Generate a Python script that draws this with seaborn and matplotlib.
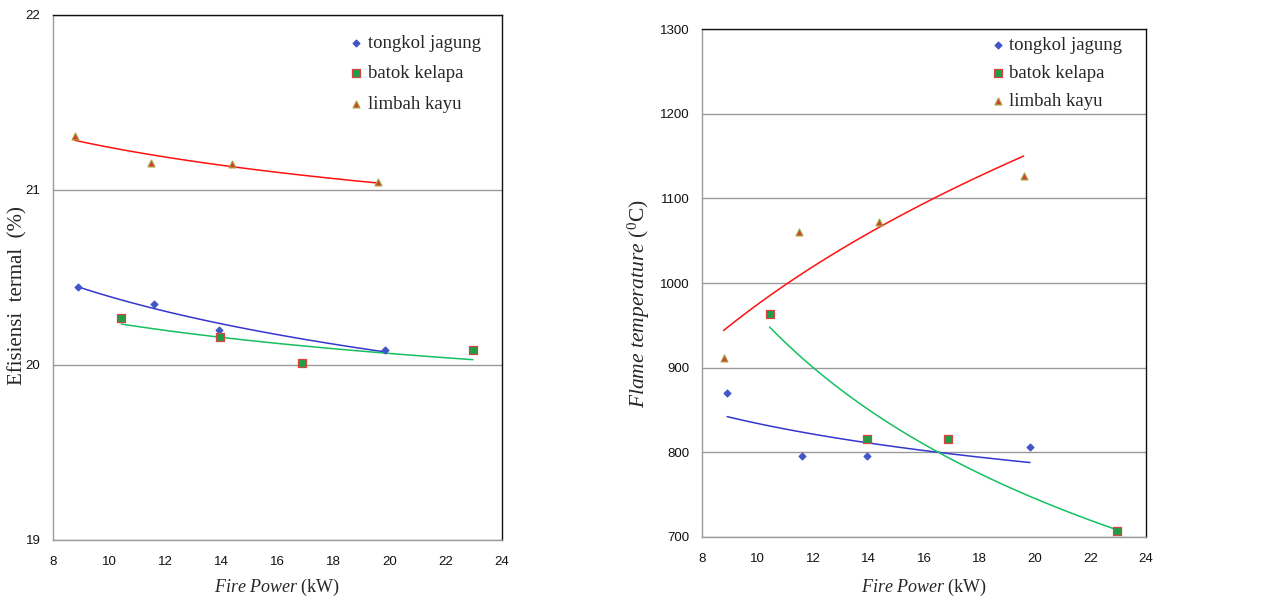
import numpy as np
import pandas as pd
import seaborn as sns
import matplotlib.pyplot as plt

# fire power (kW) for each fuel
x_tongkol = [8.90, 11.58, 13.93, 19.82]
x_batok = [10.43, 13.95, 16.88, 22.96]
x_limbah = [8.77, 11.48, 14.37, 19.59]

# thermal efficiency (%)
eff_tongkol = [20.444, 20.350, 20.202, 20.086]
eff_batok = [20.270, 20.162, 20.013, 20.088]
eff_limbah = [21.310, 21.154, 21.149, 21.046]

# flame temperature (C)
temp_tongkol = [870, 795, 795, 806]
temp_batok = [963, 816, 816, 707]
temp_limbah = [911, 1060, 1072, 1127]

labels = ['tongkol jagung', 'batok kelapa', 'limbah kayu']

sns.set_style('white')
plt.rcParams['mathtext.fontset'] = 'custom'
plt.rcParams['mathtext.rm'] = 'Liberation Serif'
plt.rcParams['mathtext.it'] = 'Liberation Serif:italic'

# marker / trendline styles per fuel
styles = [
    dict(marker='D', s=12, color='#3F55C8', edgecolor='#3F55C8', line='#3535D0'),
    dict(marker='s', s=26, color='#1E9E48', edgecolor='#D9443F', line='#14C060'),
    dict(marker='^', s=24, color='#D23A2A', edgecolor='#A8A040', line='#FF1010'),
]


def power_trend(x, y):
    # Excel style power trendline y = a * x^b
    b, lna = np.polyfit(np.log(x), np.log(y), 1)
    xs = np.linspace(min(x), max(x), 60)
    return xs, np.exp(lna) * xs ** b


def draw_panel(ax, xs_list, ys_list, ylim, yticks):
    handles = []
    for x, y, lab, st in zip(xs_list, ys_list, labels, styles):
        tx, ty = power_trend(np.array(x), np.array(y))
        sns.lineplot(ax=ax, x=tx, y=ty, color=st['line'], linewidth=1.1,
                     estimator=None, sort=False)
    for x, y, lab, st in zip(xs_list, ys_list, labels, styles):
        df = pd.DataFrame({'x': x, 'y': y})
        sns.scatterplot(ax=ax, data=df, x='x', y='y', marker=st['marker'], s=st['s'],
                        color=st['color'], edgecolor=st['edgecolor'], linewidth=0.9,
                        zorder=5)
        handles.append(ax.collections[-1])
    ax.set_xlim(8, 24)
    ax.set_xticks(range(8, 25, 2))
    ax.set_ylim(*ylim)
    ax.set_yticks(yticks)
    ax.yaxis.grid(True, color='#9A9A9A', linewidth=1.0)
    ax.xaxis.grid(False)
    for side in ['left', 'bottom']:
        ax.spines[side].set_color('#9A9A9A')
    for side in ['top', 'right']:
        ax.spines[side].set_color('#111111')
    for sp in ax.spines.values():
        sp.set_linewidth(1.0)
    ax.tick_params(axis='both', direction='out', length=4, width=1, color='#9A9A9A',
                   labelsize=9.5, labelcolor='#111111')
    ax.tick_params(axis='x', pad=7.5)
    ax.tick_params(axis='y', pad=5)
    for t in ax.get_xticklabels() + ax.get_yticklabels():
        t.set_fontfamily('Liberation Sans')
    ax.set_xlabel(r'$\mathit{Fire\ Power}$ (kW)', family='Liberation Serif', fontsize=13)
    return handles


fig = plt.figure(figsize=(12.63, 5.97), dpi=100)
ax1 = fig.add_axes([0.042, 0.0955, 0.3555, 0.8794])
ax2 = fig.add_axes([0.556, 0.101, 0.3513, 0.8499])

h1 = draw_panel(ax1, [x_tongkol, x_batok, x_limbah], [eff_tongkol, eff_batok, eff_limbah],
                (19, 22), [19, 20, 21, 22])
ax1.set_ylabel('Efisiensi  termal  (%)', family='Liberation Serif', fontsize=15)
ax1.yaxis.set_label_coords(-0.056, 0.465)
ax1.xaxis.set_label_coords(0.5, -0.07)

h2 = draw_panel(ax2, [x_tongkol, x_batok, x_limbah], [temp_tongkol, temp_batok, temp_limbah],
                (700, 1300), list(range(700, 1301, 100)))
ax2.set_ylabel(r'$\mathit{Flame\ temperature}$ ($^{0}$C)', family='Liberation Serif',
               fontsize=15.5)
ax2.yaxis.set_label_coords(-0.113, 0.459)
ax2.xaxis.set_label_coords(0.5, -0.079)

for ax, h, anchor, spacing in [(ax1, h1, (0.638, 0.977), 0.72), (ax2, h2, (0.629, 1.0), 0.58)]:
    ax.legend(h, labels, loc='upper left', bbox_to_anchor=anchor, frameon=False,
              prop={'family': 'Liberation Serif', 'size': 13.5}, handletextpad=0.1,
              handlelength=1.0, labelspacing=spacing, borderaxespad=0)

fig.savefig('out.png', dpi=100)
